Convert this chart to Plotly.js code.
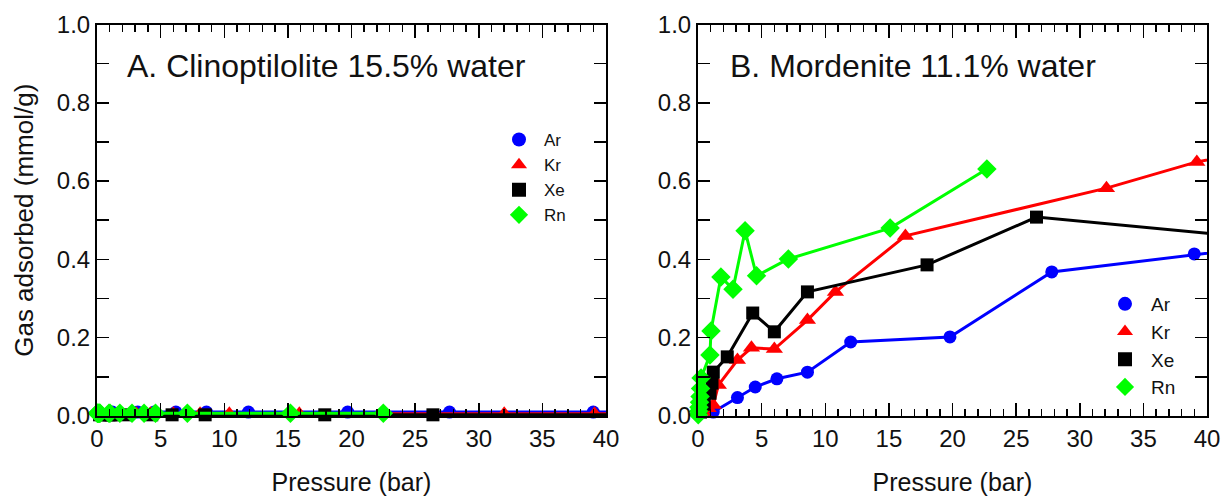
<!DOCTYPE html>
<html>
<head>
<meta charset="utf-8">
<script src="https://cdn.plot.ly/plotly-3.0.1.min.js"></script>
<style>html,body{margin:0;padding:0;background:#fff;}#chart{width:1227px;height:497px;}</style>
</head>
<body>
<div id="chart"></div>
<script>
// Panel A: Clinoptilolite 15.5% water
const ArA_P = [1.2, 3.2, 4.5, 6.2, 8.6, 11.9, 19.7, 27.7, 39.0, 45];
const ArA_Q = [0.01, 0.01, 0.01, 0.01, 0.01, 0.01, 0.01, 0.01, 0.01, 0.01];
const KrA_P = [0.4, 0.8, 1.2, 1.6, 3.1, 4.2, 6.0, 8.1, 10.4, 15.9, 32.0, 39.1, 45];
const KrA_Q = [0.006, 0.006, 0.006, 0.006, 0.006, 0.006, 0.006, 0.006, 0.006, 0.006, 0.006, 0.006, 0.006];
const XeA_P = [0.2, 0.5, 0.94, 1.1, 1.2, 2.3, 4.3, 5.9, 8.5, 17.9, 26.4, 45];
const XeA_Q = [0.003, 0.003, 0.003, 0.003, 0.003, 0.003, 0.003, 0.003, 0.003, 0.003, 0.003, 0.003];
const RnA_P = [0.02, 0.05, 0.08, 0.12, 0.16, 0.2, 0.24, 0.94, 1.02, 1.8, 2.75, 3.7, 4.6, 7.1, 15.2, 22.5];
const RnA_Q = [0.007, 0.007, 0.007, 0.007, 0.007, 0.007, 0.007, 0.007, 0.007, 0.007, 0.007, 0.007, 0.007, 0.007, 0.007, 0.007];

// Panel B: Mordenite 11.1% water
const ArB_P = [1.2, 3.1, 4.5, 6.2, 8.6, 12.0, 19.8, 27.8, 39.0, 45];
const ArB_Q = [0.01, 0.047, 0.074, 0.095, 0.112, 0.189, 0.202, 0.368, 0.414, 0.435];
const KrB_P = [0.4, 0.8, 1.2, 1.6, 3.1, 4.2, 6.0, 8.6, 10.8, 16.3, 32.1, 39.2, 45];
const KrB_Q = [0.01, 0.02, 0.028, 0.079, 0.143, 0.174, 0.171, 0.245, 0.317, 0.46, 0.582, 0.649, 0.685];
const XeB_P = [0.2, 0.5, 0.94, 1.1, 1.2, 2.3, 4.3, 6.0, 8.6, 18.0, 26.6, 45];
const XeB_Q = [0.01, 0.03, 0.058, 0.084, 0.112, 0.151, 0.263, 0.215, 0.317, 0.386, 0.508, 0.451];
const RnB_P = [0.02, 0.05, 0.08, 0.12, 0.16, 0.2, 0.24, 0.94, 1.02, 1.8, 2.75, 3.7, 4.6, 7.1, 15.1, 22.7];
const RnB_Q = [0.003, 0.012, 0.022, 0.035, 0.05, 0.07, 0.097, 0.156, 0.217, 0.355, 0.324, 0.473, 0.358, 0.401, 0.48, 0.631];

const gasNames = ['Ar', 'Kr', 'Xe', 'Rn'];
const gasColors = ['#0000ff', '#ff0000', '#000000', '#00ff00'];
const gasSymbols = ['circle', 'triangle-up', 'square', 'diamond'];
const gasSizes = [13, 15, 13, 15];
const X_MAX = 40;

const panelA = [[ArA_P, ArA_Q], [KrA_P, KrA_Q], [XeA_P, XeA_Q], [RnA_P, RnA_Q]];
const panelB = [[ArB_P, ArB_Q], [KrB_P, KrB_Q], [XeB_P, XeB_Q], [RnB_P, RnB_Q]];

const traces = [];
function addPanel(data, xa, ya, leg) {
  data.forEach((d, i) => {
    // line (clipped to the plot area)
    traces.push({
      x: d[0], y: d[1], xaxis: xa, yaxis: ya, mode: 'lines',
      name: gasNames[i], showlegend: false, cliponaxis: true,
      line: {color: gasColors[i], width: 3}
    });
    // markers, allowed to overhang the axes; points beyond the x range are hidden
    traces.push({
      x: d[0], y: d[1], xaxis: xa, yaxis: ya, mode: 'markers',
      name: gasNames[i], showlegend: false, cliponaxis: false,
      marker: {symbol: gasSymbols[i], color: gasColors[i], opacity: 1,
               line: {width: 0},
               size: d[0].map(p => p > X_MAX ? 0 : gasSizes[i])}
    });
  });
  data.forEach((d, i) => {
    traces.push({
      x: [null], y: [null], xaxis: xa, yaxis: ya, mode: 'markers',
      name: gasNames[i], legend: leg, showlegend: true,
      marker: {symbol: gasSymbols[i], size: 14, color: gasColors[i], opacity: 1, line: {width: 0}}
    });
  });
}
addPanel(panelA, 'x', 'y', 'legend');
addPanel(panelB, 'x2', 'y2', 'legend2');

const FF = 'Liberation Sans, Arial, sans-serif';
const tickFont = {family: FF, size: 24, color: '#111'};
function xax(dom, anchor) {
  return {
    domain: dom, anchor: anchor, range: [0, X_MAX], dtick: 5, tick0: 0,
    ticks: 'inside', ticklen: 13, tickwidth: 1.5, tickcolor: '#000',
    minor: {ticks: 'inside', dtick: 1, ticklen: 7, tickwidth: 1.5, tickcolor: '#000', showgrid: false},
    showline: true, linewidth: 2, linecolor: '#000', mirror: 'allticks',
    showgrid: false, zeroline: false, tickfont: tickFont,
    title: {text: 'Pressure (bar)', font: {family: FF, size: 25, color: '#111'}, standoff: 23}
  };
}
function yax(anchor, withTitle) {
  const a = {
    domain: [0.163, 0.9507], anchor: anchor, range: [0, 1], dtick: 0.2, tick0: 0, tickformat: '.1f',
    ticks: 'inside', ticklen: 12, tickwidth: 1.5, tickcolor: '#000',
    minor: {ticks: 'inside', dtick: 0.1, ticklen: 12, tickwidth: 1.5, tickcolor: '#000', showgrid: false},
    showline: true, linewidth: 2, linecolor: '#000', mirror: 'allticks',
    showgrid: false, zeroline: false, tickfont: tickFont
  };
  if (withTitle) {
    a.title = {text: 'Gas adsorbed (mmol/g)', font: {family: FF, size: 26, color: '#111'}, standoff: 16};
  }
  return a;
}

const layout = {
  width: 1227, height: 497,
  margin: {l: 0, r: 0, t: 0, b: 0},
  paper_bgcolor: '#fff', plot_bgcolor: '#fff',
  font: {family: FF, color: '#111'},
  xaxis: xax([97/1227, 606/1227], 'y'),
  yaxis: yax('x', true),
  xaxis2: xax([698/1227, 1207/1227], 'y2'),
  yaxis2: yax('x2', false),
  legend: {x: 494/1227, y: 1 - 122/497, xanchor: 'left', yanchor: 'top', bgcolor: 'rgba(0,0,0,0)',
           font: {size: 17, color: '#111'}, itemwidth: 40},
  legend2: {x: 1099/1227, y: 1 - 285/497, xanchor: 'left', yanchor: 'top', bgcolor: 'rgba(0,0,0,0)',
            font: {size: 19, color: '#111'}, itemwidth: 42},
  annotations: [
    {text: 'A. Clinoptilolite 15.5% water', xref: 'paper', yref: 'paper', x: 125/1227, y: 1 - 66/497,
     xanchor: 'left', yanchor: 'middle', showarrow: false, font: {family: FF, size: 32, color: '#111'}},
    {text: 'B. Mordenite 11.1% water', xref: 'paper', yref: 'paper', x: 728/1227, y: 1 - 66/497,
     xanchor: 'left', yanchor: 'middle', showarrow: false, font: {family: FF, size: 32, color: '#111'}}
  ]
};

Plotly.newPlot('chart', traces, layout, {displayModeBar: false, staticPlot: true});
</script>
</body>
</html>
